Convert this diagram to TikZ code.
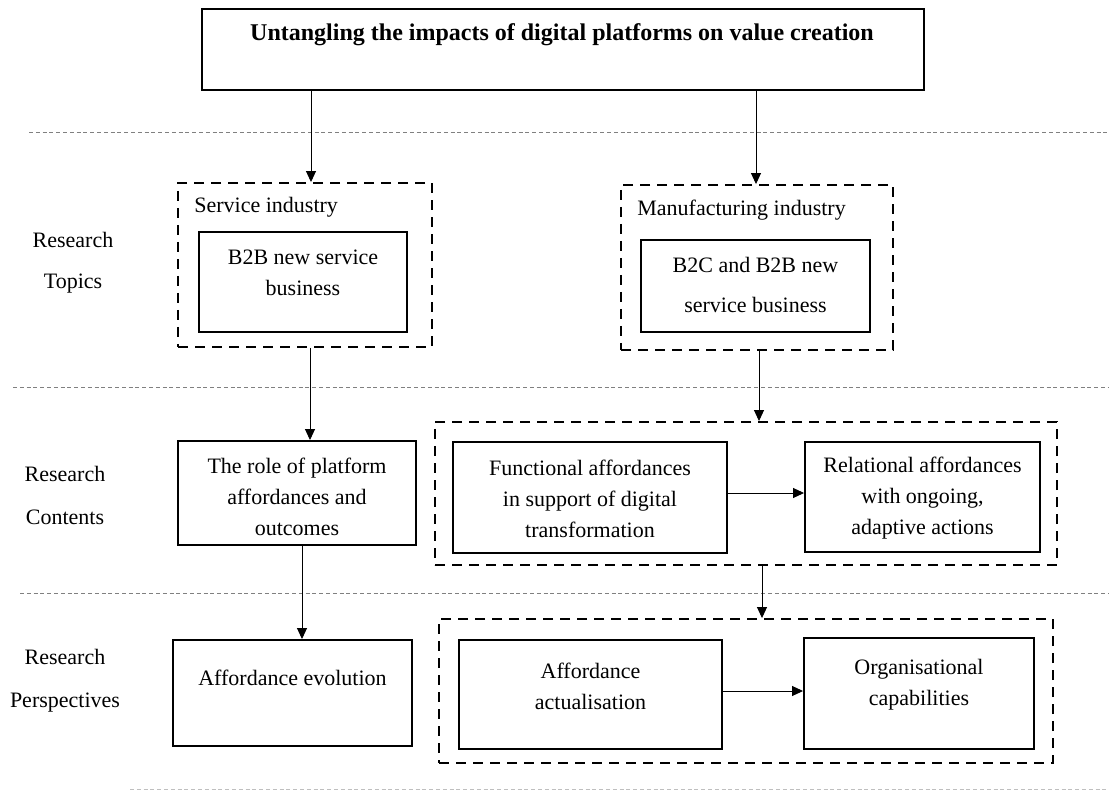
\documentclass[tikz,border=0pt]{standalone}
\usepackage{fontspec}
\setmainfont{Liberation Serif}
\usetikzlibrary{arrows.meta}
\begin{document}
\begin{tikzpicture}[x=0.5pt,y=-0.5pt,
  box/.style={draw,line width=0.95pt,inner sep=0pt},
  dbox/.style={draw,line width=0.95pt,inner sep=0pt,dash pattern=on 5pt off 3.5pt},
  txt/.style={align=center,inner sep=0pt,font=\fontsize{11}{15.5}\selectfont},
  lbl/.style={align=center,inner sep=0pt,font=\fontsize{11}{20.5}\selectfont},
  arr/.style={line width=0.45pt,-{Triangle[length=5.5pt,width=5pt]}},
  sep/.style={gray,line width=0.5pt,dash pattern=on 2pt off 1.4pt}]
\useasboundingbox (0,0) rectangle (1109,791);
% separators
\draw[sep] (29,133) -- (1109,133);
\draw[sep] (13,388) -- (1109,388);
\draw[sep] (20,593) -- (1109,593);
\draw[sep,gray!50] (130,789) -- (1109,789);
% title
\node[box,minimum width=361pt,minimum height=40.5pt] (title) at (563,49.5) {};
\node[txt,font=\fontsize{12}{15.5}\selectfont\bfseries] (titlet) at (562,35) {Untangling the impacts of digital platforms on value creation};
% row labels
\node[lbl] (lt) at (73,262.5) {Research\\Topics};
\node[lbl,font=\fontsize{11}{21.5}\selectfont] (lc) at (65,495.5) {Research\\Contents};
\node[lbl,font=\fontsize{11}{21.5}\selectfont] (lp) at (65,680.5) {Research\\Perspectives};
% topics
\node[dbox,minimum width=127pt,minimum height=82pt] (serv) at (305,265) {};
\node[txt,anchor=west] (servt) at (194,207) {Service industry};
\node[box,minimum width=104pt,minimum height=50pt] (b2b) at (303,282) {};
\node[txt] (b2bt) at (303,273) {B2B new service\\business};
\node[dbox,minimum width=136pt,minimum height=82.5pt] (manu) at (757,267.5) {};
\node[txt,anchor=west] (manut) at (637,210) {Manufacturing industry};
\node[box,minimum width=114.5pt,minimum height=46pt] (b2c) at (755.5,286) {};
\node[txt,font=\fontsize{11}{20}\selectfont] (b2ct) at (755.5,285) {B2C and B2B new\\service business};
% contents
\node[box,minimum width=119pt,minimum height=52pt] (role) at (297,493) {};
\node[txt] (rolet) at (297,496.5) {The role of platform\\affordances and\\outcomes};
\node[dbox,minimum width=311pt,minimum height=71.5pt] (cont) at (746,493.5) {};
\node[box,minimum width=137pt,minimum height=55.5pt] (func) at (590,497.5) {};
\node[txt] (funct) at (590,498.5) {Functional affordances\\in support of digital\\transformation};
\node[box,minimum width=117.5pt,minimum height=55pt] (rel) at (922.5,497) {};
\node[txt] (relt) at (922.5,498.5) {Relational affordances\\with ongoing,\\adaptive actions};
% perspectives
\node[box,minimum width=119.5pt,minimum height=53pt] (evo) at (292.5,693) {};
\node[txt] (evot) at (292.5,678) {Affordance evolution};
\node[dbox,minimum width=307pt,minimum height=72pt] (pers) at (746,691) {};
\node[box,minimum width=131.5pt,minimum height=54.5pt] (act) at (590.5,694.5) {};
\node[txt] (actt) at (590.5,686) {Affordance\\actualisation};
\node[box,minimum width=115pt,minimum height=55.5pt] (org) at (919,693.5) {};
\node[txt] (orgt) at (919,685) {Organisational\\capabilities};
% connectors
\draw[arr] (title.south -| 311,0) -- (serv.north -| 311,0);
\draw[arr] (title.south -| 756,0) -- (manu.north -| 756,0);
\draw[arr] (serv.south -| 310,0) -- (role.north -| 310,0);
\draw[arr] (role.south -| 302,0) -- (evo.north -| 302,0);
\draw[arr] (manu.south -| 759,0) -- (cont.north -| 759,0);
\draw[arr] (cont.south -| 762,0) -- (pers.north -| 762,0);
\draw[arr] (func.east |- 0,493) -- (rel.west |- 0,493);
\draw[arr] (act.east |- 0,691) -- (org.west |- 0,691);
\end{tikzpicture}
\end{document}
